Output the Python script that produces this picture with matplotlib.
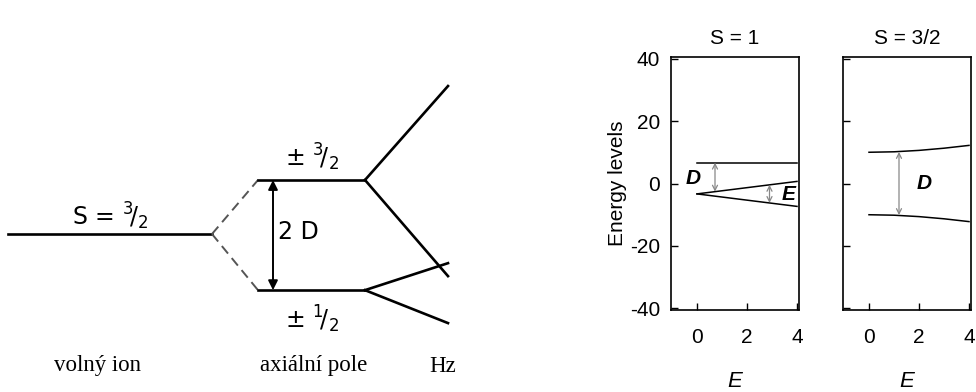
import numpy as np
import matplotlib
matplotlib.use('Agg')
from matplotlib import pyplot as plt

# --- left: level scheme (energy in units of D, x in stage units) ---
free_x = [8, 212]
axial_x = [258, 365]
zeeman_x = 448
free_level = 0.0
axial_levels = [1.0, -1.04]            # +-3/2, +-1/2
zeeman_ends = [[2.74, -0.78], [-0.54, -1.65]]
level_labels = ['\u00b1 $^3\\!/_2$', '\u00b1 $^1\\!/_2$']
stage_labels = ['volný ion', 'axiální pole', 'Hz']
stage_label_x = [98, 314, 443]

# --- right: energy levels vs E ---
e_vals = [0, 1, 2, 3, 4]
s1_upper = [6.67, 6.67, 6.67, 6.67, 6.67]
s1_mid = [-3.33, -2.33, -1.33, -0.33, 0.67]
s1_low = [-3.33, -4.33, -5.33, -6.33, -7.33]
s32_upper = [10.0, 10.15, 10.6, 11.3, 12.2]
s32_low = [-10.0, -10.15, -10.6, -11.3, -12.2]
yticks = [-40, -20, 0, 20, 40]
xticks = [0, 2, 4]

W, H = 976, 392
plt.rcParams['mathtext.fontset'] = 'dejavusans'
plt.rcParams['axes.unicode_minus'] = False
fig = plt.figure(figsize=(W / 100, H / 100), dpi=100)

# left diagram axes, y scale: 54 px per unit, 0 at pixel row 234
ax = fig.add_axes([0, 0, 470 / W, 1])
ax.set_xlim(0, 470)
ax.set_ylim((234 - 392) / 54, 234 / 54)
ax.axis('off')
lw = 1.9
ax.plot(free_x, [free_level] * 2, color='k', lw=lw)
for lev, ends in zip(axial_levels, zeeman_ends):
    ax.plot([free_x[1], axial_x[0]], [free_level, lev], color='#555555', lw=1.4,
            ls=(0, (5, 3)))
    ax.plot(axial_x, [lev, lev], color='k', lw=lw)
    for end in ends:
        ax.plot([axial_x[1], zeeman_x], [lev, end], color='k', lw=lw)
ax.annotate('', xy=(273, axial_levels[0]), xytext=(273, axial_levels[1]),
            arrowprops=dict(arrowstyle='<|-|>', color='k', lw=1.4,
                            mutation_scale=14, shrinkA=0, shrinkB=0))
ax.text(278, 0.03, '2 D', fontsize=17, va='center', ha='left')
ax.text(110, 0.33, 'S = $^3\\!/_2$', fontsize=17, va='center', ha='center')
ax.text(312, 1.42, level_labels[0], fontsize=17, va='center', ha='center')
ax.text(312, -1.58, level_labels[1], fontsize=17, va='center', ha='center')
for lab, x in zip(stage_labels, stage_label_x):
    fig.text(x / W, 1 - 366 / H, lab, fontsize=16.5, family='Liberation Serif',
             ha='center', va='center')

# right panels
narrow = ['Liberation Sans Narrow', 'Liberation Sans', 'DejaVu Sans']
panels = [
    ('S = 1', 671, [s1_upper, s1_mid, s1_low]),
    ('S = 3/2', 843, [s32_upper, s32_low]),
]
axes = []
for i, (title, left, series) in enumerate(panels):
    a = fig.add_axes([left / W, (H - 310) / H, 128 / W, 253 / H])
    for s in series:
        a.plot(e_vals, s, color='k', lw=1.1)
    a.set_xlim(-1.04, 4.08)
    a.set_ylim(-40.5, 40.5)
    a.set_xticks(xticks)
    a.set_yticks(yticks)
    a.tick_params(direction='in', length=5, width=1, top=False, right=False,
                  labelsize=15)
    a.tick_params(axis='x', pad=13)
    a.tick_params(axis='y', pad=8)
    for lab in a.get_xticklabels() + a.get_yticklabels():
        lab.set_family(narrow)
    if i > 0:
        a.set_yticklabels([])
    for sp in a.spines.values():
        sp.set_linewidth(1.2)
    a.set_title(title, fontsize=15, family=narrow, pad=9)
    a.set_xlabel('E', fontsize=16, family=narrow, style='italic', labelpad=17)
    axes.append(a)

axes[0].set_ylabel('Energy levels', fontsize=15, family=narrow, labelpad=2)

grey_arrow = dict(arrowstyle='<->', color='#888888', lw=0.9,
                  mutation_scale=9, shrinkA=0, shrinkB=0)
a1 = axes[0]
a1.annotate('', xy=(0.72, s1_upper[0]), xytext=(0.72, -2.61), arrowprops=grey_arrow)
a1.annotate('', xy=(2.9, -0.43), xytext=(2.9, -6.23), arrowprops=grey_arrow)
a1.text(-0.15, 1.6, 'D', fontsize=15, style='italic', weight='bold',
        family=narrow, ha='center', va='center')
a1.text(3.65, -3.6, 'E', fontsize=15, style='italic', weight='bold',
        family=narrow, ha='center', va='center')
a2 = axes[1]
a2.annotate('', xy=(1.2, 10.1), xytext=(1.2, -10.1), arrowprops=grey_arrow)
a2.text(2.2, 0, 'D', fontsize=15, style='italic', weight='bold',
        family=narrow, ha='center', va='center')

fig.savefig('out.png', dpi=100)
